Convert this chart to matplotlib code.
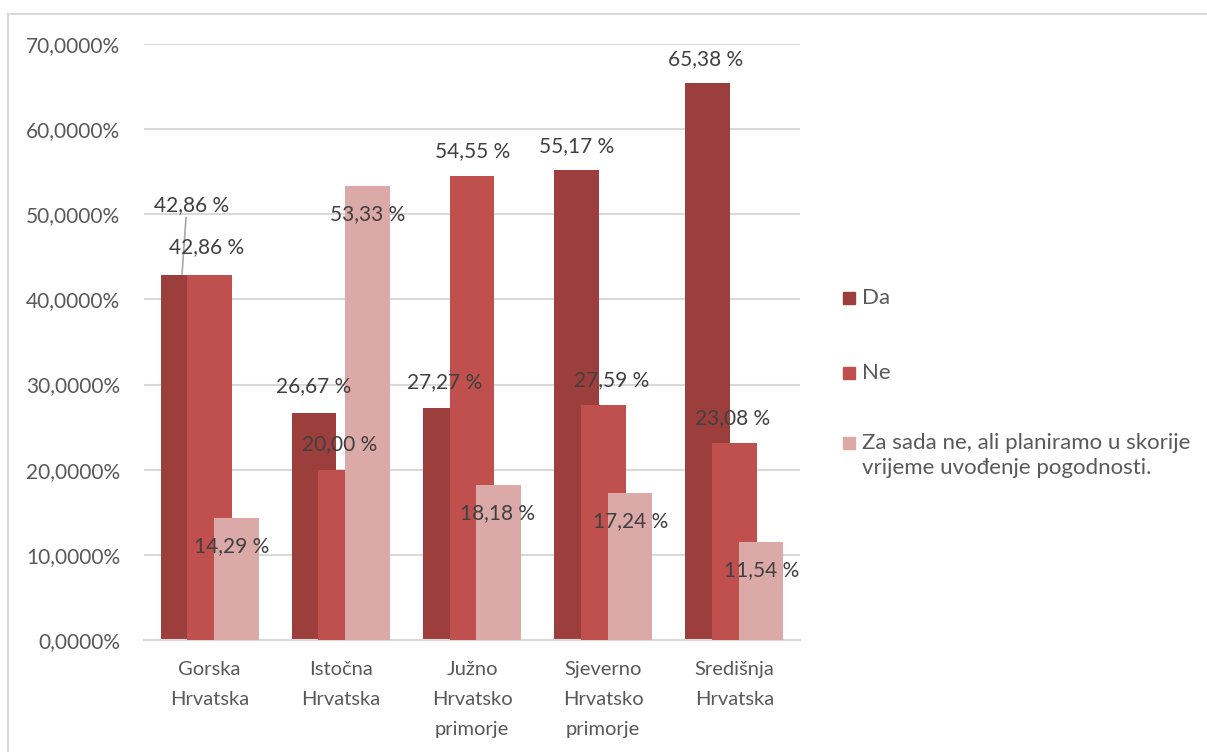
import matplotlib
matplotlib.use("Agg")
import matplotlib.pyplot as plt
from matplotlib.patches import Rectangle
from matplotlib.lines import Line2D
import numpy as np

plt.rcParams['font.family'] = ['Lato', 'DejaVu Sans']

categories = ["Gorska\nHrvatska", "Istočna\nHrvatska", "Južno\nHrvatsko\nprimorje",
              "Sjeverno\nHrvatsko\nprimorje", "Središnja\nHrvatska"]
series_names = ["Da", "Ne", "Za sada ne, ali planiramo u skorije\nvrijeme uvođenje pogodnosti."]
da = [42.86, 26.67, 27.27, 55.17, 65.38]
ne = [42.86, 20.00, 54.55, 27.59, 23.08]
za_sada = [14.29, 53.33, 18.18, 17.24, 11.54]
yticks = [0, 10, 20, 30, 40, 50, 60, 70]
ytick_labels = ["0,0000%", "10,0000%", "20,0000%", "30,0000%", "40,0000%",
                "50,0000%", "60,0000%", "70,0000%"]

colors = ["#9C3E3C", "#C0504D", "#DBA9A8"]

# label placement (data coords) for each series
label_pos = [
    [(-0.134, 51.1), (0.796, 29.8), (1.794, 30.3), (2.800, 58.0), (3.783, 68.2)],
    [(-0.02, 46.2), (0.994, 23.0), (2.008, 57.4), (3.067, 30.5), (3.989, 26.1)],
    [(0.171, 11.0), (1.207, 50.0), (2.198, 14.9), (3.212, 14.0), (4.210, 8.2)],
]

W, H = 1207, 752
fig = plt.figure(figsize=(W / 100, H / 100), dpi=100)
ax = fig.add_axes([144 / W, 1 - 640 / H, (800 - 144) / W, (640 - 44) / H])

x = np.arange(len(categories))
bw = 0.34
step = 0.203
for i, vals in enumerate([da, ne, za_sada]):
    ax.bar(x + (i - 1) * step, vals, width=bw, color=colors[i], zorder=2 + i,
           label=series_names[i])
    for j, v in enumerate(vals):
        lx, ly = label_pos[i][j]
        ax.text(lx, ly, f"{v:.2f}".replace(".", ",") + " %", ha="center", va="center",
                fontsize=15, color="#404040", zorder=10)

# leader line for first label
ax.add_line(Line2D([-0.18, -0.21], [49.6, 43.0], color="#A6A6A6", lw=1.2, zorder=9))

ax.set_xlim(-0.5, len(categories) - 0.5)
ax.set_ylim(0, 70)
ax.set_yticks(yticks)
ax.set_yticklabels(ytick_labels, fontsize=15)
ax.set_xticks(x)
ax.set_xticklabels(categories, linespacing=1.95, fontsize=14.5)
ax.tick_params(axis="both", length=0, colors="#595959")
ax.tick_params(axis="y", pad=17)
ax.tick_params(axis="x", pad=15)
ax.grid(axis="y", color="#D9D9D9", lw=1.5, zorder=0)
ax.set_axisbelow(True)
for s in ["top", "right", "left"]:
    ax.spines[s].set_visible(False)
ax.spines["bottom"].set_color("#D9D9D9")
ax.spines["bottom"].set_linewidth(1.5)

# legend (manual)
leg_items = [(298, [series_names[0]]), (373, [series_names[1]]),
             (443, series_names[2].split("\n"))]
for (yc, lines), c in zip(leg_items, colors):
    fig.patches.append(Rectangle((843 / W, 1 - (yc + 6) / H), 12 / W, 12 / H,
                                 transform=fig.transFigure, color=c))
    for k, t in enumerate(lines):
        fig.text(862 / W, 1 - (yc + k * 25) / H, t, ha="left", va="center",
                 fontsize=16, color="#595959")

# outer chart border (top and left visible)
fig.add_artist(Line2D([8 / W, 1], [1 - 14 / H, 1 - 14 / H], transform=fig.transFigure,
                      color="#D9D9D9", lw=1.5))
fig.add_artist(Line2D([8 / W, 8 / W], [0, 1 - 14 / H], transform=fig.transFigure,
                      color="#D9D9D9", lw=1.5))

fig.savefig("out.png", dpi=100, facecolor="white")
